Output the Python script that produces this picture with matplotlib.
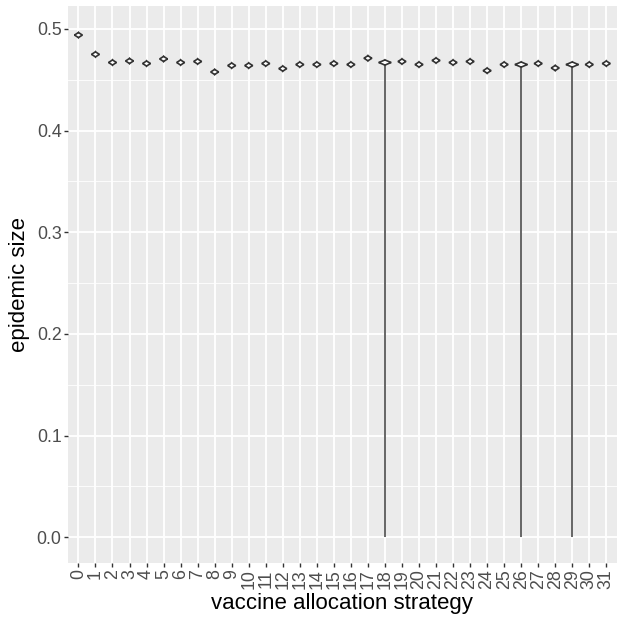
import numpy as np
import matplotlib
matplotlib.use('Agg')
import matplotlib.pyplot as plt

plt.rcParams['font.family'] = ['Liberation Sans', 'DejaVu Sans']

# strategies and the per-strategy epidemic size distribution
strategies = [str(i) for i in range(32)]
peak = [0.494, 0.475, 0.467, 0.4685, 0.466, 0.4705, 0.467, 0.468,
        0.4577, 0.464, 0.464, 0.466, 0.461, 0.465, 0.465, 0.466,
        0.465, 0.4712, 0.467, 0.468, 0.465, 0.469, 0.467, 0.468,
        0.459, 0.465, 0.465, 0.466, 0.4616, 0.465, 0.465, 0.466]
spread = [0.0027] * 32
# runs that died out give a thin tail down to zero
low = [None] * 32
low[18] = 0.0
low[26] = 0.0
low[29] = 0.0
# relative density at the peak (violin width)
dens = [0.47] * 32
dens[18] = 0.74
dens[26] = 0.74
dens[29] = 0.74

fig = plt.figure(figsize=(6.23, 6.23), dpi=100)
ax = fig.add_axes([0.1095, 0.0968, 0.9896 - 0.1095, 0.9904 - 0.0968])
ax.set_facecolor('#EBEBEB')

t = np.linspace(-1, 1, 81)
for i in range(len(strategies)):
    ys = peak[i] + t * spread[i]
    half = dens[i] / 2 * (1 - np.abs(t)) ** 1.15
    if low[i] is not None:
        ax.plot([i, i], [low[i], peak[i] - spread[i]], color='#3C3C3C', lw=1.1,
                zorder=3, solid_capstyle='butt')
    ax.fill(np.concatenate([i - half, (i + half)[::-1]]),
            np.concatenate([ys, ys[::-1]]),
            facecolor='white', edgecolor='#333333', lw=1.2, zorder=4)

ax.set_xlim(-0.6, len(strategies) - 1 + 0.6)
ax.set_ylim(-0.025, 0.5226)
ax.set_xticks(range(len(strategies)))
ax.set_xticklabels(strategies, rotation=90)
ax.set_yticks([0.0, 0.1, 0.2, 0.3, 0.4, 0.5])
ax.set_yticklabels(['0.0', '0.1', '0.2', '0.3', '0.4', '0.5'])
ax.set_yticks([0.05, 0.15, 0.25, 0.35, 0.45], minor=True)

ax.grid(True, which='major', color='white', lw=1.3, zorder=0)
ax.grid(True, which='minor', axis='y', color='white', lw=0.6, zorder=0)
ax.set_axisbelow(True)
for s in ax.spines.values():
    s.set_visible(False)
ax.tick_params(which='major', length=3.0, width=1.0, color='#333333',
               labelcolor='#4D4D4D', labelsize=12.8, pad=1.8)
ax.tick_params(which='minor', length=0)

ax.set_xlabel('vaccine allocation strategy', fontsize=16, color='black', labelpad=3)
ax.set_ylabel('epidemic size', fontsize=16, color='black', labelpad=5)

fig.savefig('out.png', dpi=100)
